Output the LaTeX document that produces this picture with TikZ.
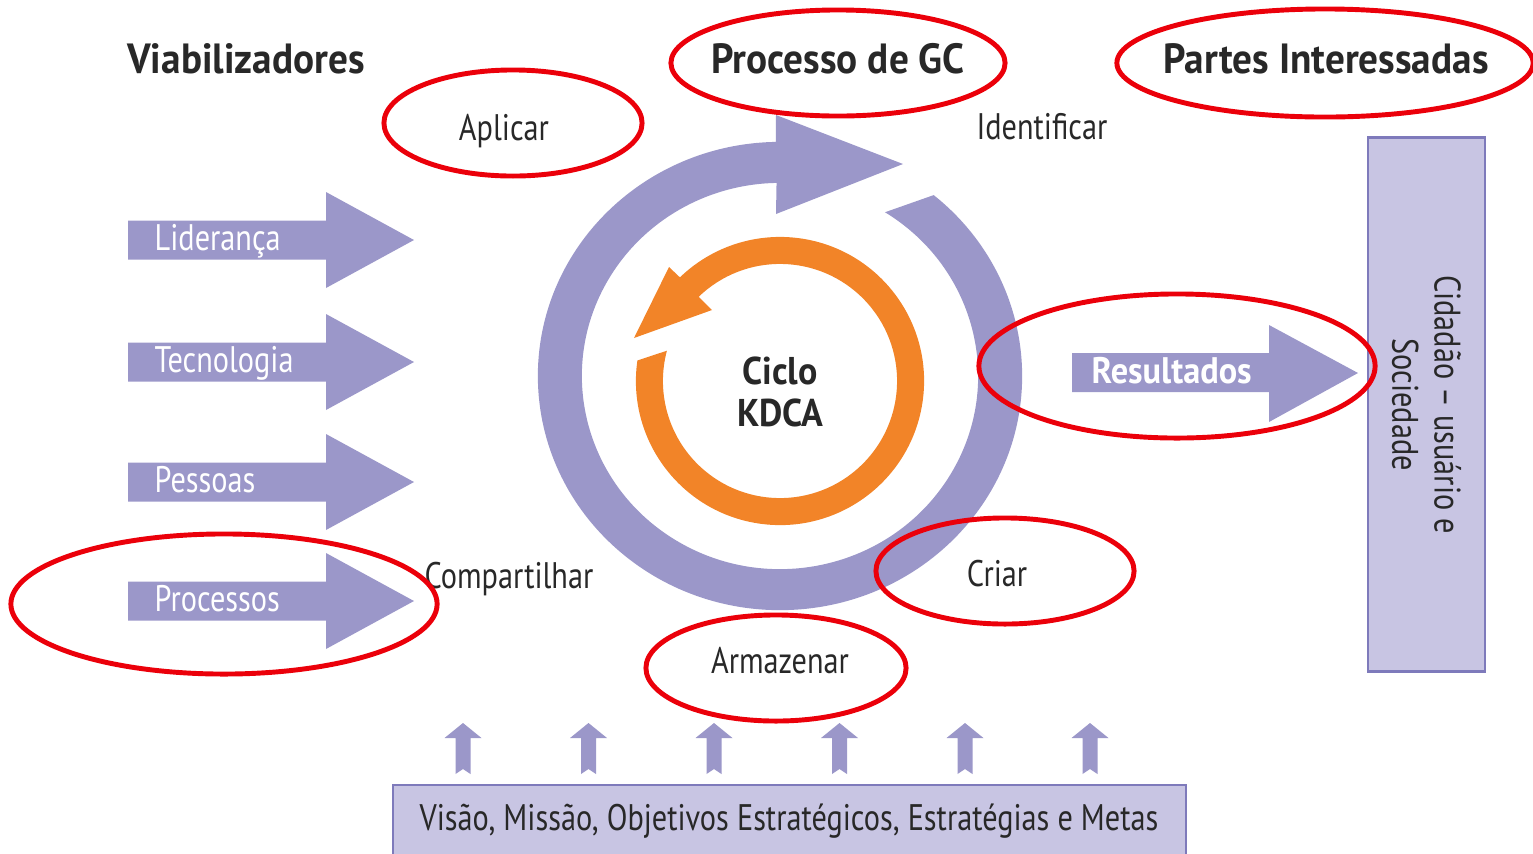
\documentclass[tikz,border=0pt]{standalone}
\usepackage{fontspec}
\setmainfont{PT Sans}[UprightFeatures={FakeStretch=0.82}, BoldFeatures={FakeStretch=0.93}]
\usepackage{tikz}
\usetikzlibrary{calc,positioning}

\definecolor{gcpurple}{RGB}{155,151,201}
\definecolor{gclight}{RGB}{200,197,227}
\definecolor{gcborder}{RGB}{126,122,187}
\definecolor{gcorange}{RGB}{242,132,40}
\definecolor{gcred}{RGB}{235,0,10}
\definecolor{gctext}{RGB}{40,40,40}

\tikzset{
  heading/.style={font=\fontsize{12}{14}\selectfont\bfseries, text=gctext, inner sep=0, anchor=base},
  stage/.style={font=\fontsize{10.5}{12}\selectfont, text=gctext, inner sep=0, anchor=base},
  arrowtext/.style={font=\fontsize{10.5}{12}\selectfont, text=white, inner sep=0, anchor=base west},
  markring/.style={draw=gcred, line width=1.4pt},
}

\begin{document}
\begin{tikzpicture}[x=0.01cm, y=0.01cm]
    \clip (0,0) rectangle (1533,853);

    % Headings
    \node[heading] (viab) at (246,780) {Viabilizadores};
    \node[heading] (gc) at (838,780) {Processo de GC};
    \node[heading] (partes) at (1326,780) {Partes Interessadas};

    % Outer cycle (Processo de GC)
    \coordinate (kc) at (780,477);
    \fill[gcpurple] ($(kc)+(91:2.42cm and 2.34cm)$)
        arc[start angle=91, end angle=410.6, x radius=2.42cm, y radius=2.34cm]
        -- ($(kc)+(418:1.98cm and 1.93cm)$)
        arc[start angle=418, end angle=91, x radius=1.98cm, y radius=1.93cm]
        -- (776,639) -- (903,689) -- (776,738) -- cycle;

    % Inner cycle (KDCA)
    \coordinate (oc) at (780,472);
    \fill[gcorange] ($(oc)+(171.8:1.44cm)$)
        arc[start angle=171.8, end angle=494, radius=1.44cm]
        -- (669,586) -- (634,515) -- (712,543)
        -- ($(oc)+(494:1.17cm)$)
        arc[start angle=494, end angle=165, radius=1.17cm] -- cycle;
    \node[font=\fontsize{11}{11.7}\selectfont\bfseries, text=gctext, align=center] (kdca) at (780,461) {Ciclo\\KDCA};

    % Stages of the cycle
    \node[stage] (aplicar) at (504,713) {Aplicar};
    \node[stage] (identificar) at (1042,714) {Identificar};
    \node[stage] (compartilhar) at (509,265) {Compartilhar};
    \node[stage] (criar) at (997,267) {Criar};
    \node[stage] (armazenar) at (780,180) {Armazenar};

    % Enablers (left arrows)
    \foreach \yy/\nm/\txt in {613/lid/Liderança, 491/tec/Tecnologia, 371/pes/Pessoas, 252/proc/Processos} {
        \fill[gcpurple] (128,\yy-19.5) -- (326,\yy-19.5) -- (326,\yy-48) -- (414,\yy)
            -- (326,\yy+48) -- (326,\yy+19.5) -- (128,\yy+19.5) -- cycle;
        \node[arrowtext] (\nm) at (154,\yy-10) {\txt};
    }

    % Results
    \fill[gcpurple] (1072,461) -- (1269,461) -- (1269,431) -- (1358,480)
        -- (1269,528) -- (1269,500) -- (1072,500) -- cycle;
    \node[arrowtext, font=\fontsize{10.5}{12}\selectfont\bfseries] (result) at (1091,470) {Resultados};

    % Stakeholders
    \node[draw=gcborder, line width=0.8pt, fill=gclight, rotate=-90, minimum width=5.33cm,
        minimum height=1.17cm, align=center, text=gctext, font=\fontsize{10.5}{12}\selectfont]
        (cidadao) at (1426.5,448.5) {Cidadão – usuário e\\Sociedade};

    % Strategy base
    \draw[gcborder, line width=0.8pt, fill=gclight] (393,-10) rectangle (1186,68);
    \node[stage] (metas) at (789,23) {Visão, Missão, Objetivos Estratégicos, Estratégias e Metas};
    \foreach \xx in {463,588.5,714,839.5,965,1090}
        \fill[gcpurple] (\xx,130) -- (\xx+18.5,115) -- (\xx+7.5,115) -- (\xx+7.5,79)
            -- (\xx,84) -- (\xx-7.5,79) -- (\xx-7.5,115) -- (\xx-18.5,115) -- cycle;

    % Red marks
    \draw[markring] (513,730) ellipse[x radius=1.29cm, y radius=0.53cm];
    \draw[markring] (838,790) ellipse[x radius=1.67cm, y radius=0.53cm];
    \draw[markring] (1325,790) ellipse[x radius=2.08cm, y radius=0.54cm];
    \draw[markring] (1177,487) ellipse[x radius=1.98cm, y radius=0.72cm];
    \draw[markring] (224,249) ellipse[x radius=2.13cm, y radius=0.70cm];
    \draw[markring] (1005,282) ellipse[x radius=1.29cm, y radius=0.53cm];
    \draw[markring] (776,185) ellipse[x radius=1.30cm, y radius=0.53cm];
\end{tikzpicture}
\end{document}
